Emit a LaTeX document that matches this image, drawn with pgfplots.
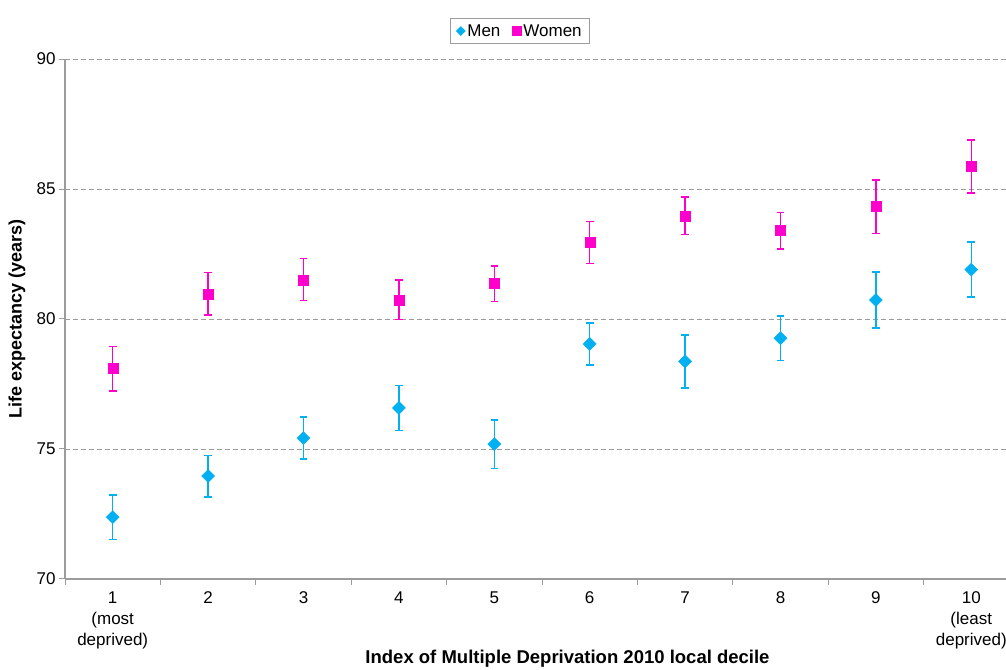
\documentclass[border=0pt]{standalone}
\usepackage{pgfplots}
\pgfplotsset{compat=1.18}
\usepackage{fontspec}
\setmainfont{Liberation Sans}
\definecolor{menc}{HTML}{00B0F0}
\definecolor{womc}{HTML}{FF00CC}
\definecolor{axgray}{HTML}{9C9C9C}
\pgfplotstableread{
x y e hi lo
1 72.38 0.85 73.23 71.53
2 73.96 0.80 74.76 73.16
3 75.42 0.81 76.23 74.61
4 76.58 0.87 77.45 75.71
5 75.19 0.93 76.12 74.26
6 79.04 0.81 79.85 78.23
7 78.37 1.02 79.39 77.35
8 79.26 0.85 80.11 78.41
9 80.73 1.08 81.81 79.65
10 81.90 1.06 82.96 80.84
}\men
\pgfplotstableread{
x y e hi lo
1 78.09 0.86 78.95 77.23
2 80.97 0.81 81.78 80.16
3 81.51 0.81 82.32 80.70
4 80.74 0.76 81.50 79.98
5 81.36 0.68 82.04 80.68
6 82.94 0.80 83.74 82.14
7 83.97 0.73 84.70 83.24
8 83.40 0.70 84.10 82.70
9 84.32 1.02 85.34 83.30
10 85.86 1.02 86.88 84.84
}\women
\begin{document}
\begin{tikzpicture}
\begin{axis}[
 scale only axis, width=941pt, height=520pt,
 xmin=0.5, xmax=10.364, ymin=70, ymax=90,
 clip=false,
 axis lines=left,
 axis line style={-, draw=axgray, line width=1.2pt},
 tick align=outside,
 major tick length=6pt,
 tick style={draw=axgray, line width=1pt},
 ytick={70,75,...,90},
 ymajorgrids,
 grid style={dash pattern=on 5pt off 3pt, draw=axgray, line width=0.9pt},
 xtick={1,...,10},
 xticklabels={{1\\(most\\deprived)},2,3,4,5,6,7,8,9,{10\\(least\\deprived)}},
 major x tick style={draw=none},
 extra x ticks={0.5,1.5,...,9.5},
 extra x tick labels={},
 extra x tick style={grid=none, major x tick style={draw=axgray}},
 xticklabel style={align=center, anchor=north, font=\fontsize{17}{21}\selectfont, yshift=-3pt},
 yticklabel style={font=\fontsize{17}{20}\selectfont},
 /pgf/number format/assume math mode=true,
 ylabel={Life expectancy (years)},
 ylabel style={at={(axis description cs:-0.051,0.5)}, anchor=center, font=\bfseries\fontsize{18}{21}\selectfont},
 xlabel={Index of Multiple Deprivation 2010 local decile},
 xlabel style={at={(axis description cs:0.534,-0.154)}, anchor=center, font=\bfseries\fontsize{18.5}{21}\selectfont},
 legend columns=2,
 legend style={at={(axis description cs:0.4835,1.0538)}, anchor=center, draw=axgray, font=\fontsize{17}{20}\selectfont, /tikz/every even column/.append style={column sep=10pt}, inner xsep=6pt, inner ysep=4pt},
 legend cell align=left,
]
% caps
\addplot[forget plot, only marks, mark=-, mark size=3.8pt, mark options={draw=menc, line width=1.4pt}] table[x=x, y=hi] {\men};
\addplot[forget plot, only marks, mark=-, mark size=3.8pt, mark options={draw=menc, line width=1.4pt}] table[x=x, y=lo] {\men};
\addplot[forget plot, only marks, mark=-, mark size=3.8pt, mark options={draw=womc, line width=1.4pt}] table[x=x, y=hi] {\women};
\addplot[forget plot, only marks, mark=-, mark size=3.8pt, mark options={draw=womc, line width=1.4pt}] table[x=x, y=lo] {\women};
\addplot[only marks, color=menc, mark=square*, mark size=4.6pt, mark options={rotate=45, fill=menc, draw=menc},
  legend image post style={mark size=3.2pt},
  error bars/.cd, y dir=both, y explicit, error mark=none,
  error bar style={line width=1.4pt, draw=menc}]
  table[x=x, y=y, y error=e] {\men};
\addlegendentry{Men}
\addplot[only marks, color=womc, mark=square*, mark size=5pt, mark options={fill=womc, draw=womc},
  legend image post style={mark size=4.5pt},
  error bars/.cd, y dir=both, y explicit, error mark=none,
  error bar style={line width=1.4pt, draw=womc}]
  table[x=x, y=y, y error=e] {\women};
\addlegendentry{Women}
\coordinate (bl) at (axis description cs:-0.0691,-0.175);
\coordinate (tr) at (axis description cs:1,1.1135);
\end{axis}
\pgfresetboundingbox
\useasboundingbox (bl) rectangle (tr);
\end{tikzpicture}
\end{document}
